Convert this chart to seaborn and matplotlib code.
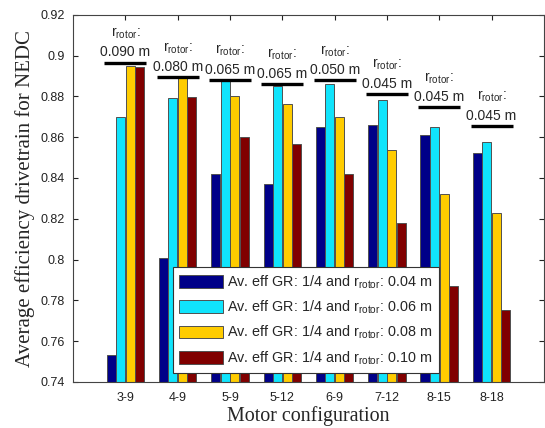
import matplotlib
matplotlib.use("Agg")
import matplotlib.pyplot as plt
import seaborn as sns
import pandas as pd

configs = ["3-9", "4-9", "5-9", "5-12", "6-9", "7-12", "8-15", "8-18"]
series = [
    "Av. eff GR: 1/4 and r$_{\\mathrm{rotor}}$: 0.04 m",
    "Av. eff GR: 1/4 and r$_{\\mathrm{rotor}}$: 0.06 m",
    "Av. eff GR: 1/4 and r$_{\\mathrm{rotor}}$: 0.08 m",
    "Av. eff GR: 1/4 and r$_{\\mathrm{rotor}}$: 0.10 m",
]
eff_r004 = [0.753, 0.801, 0.842, 0.837, 0.865, 0.866, 0.861, 0.852]
eff_r006 = [0.870, 0.879, 0.8875, 0.885, 0.886, 0.878, 0.865, 0.8575]
eff_r008 = [0.895, 0.889, 0.880, 0.8765, 0.870, 0.8535, 0.832, 0.823]
eff_r010 = [0.8945, 0.8795, 0.860, 0.8565, 0.842, 0.818, 0.787, 0.7755]
best_eff = [0.8965, 0.8893, 0.888, 0.886, 0.8878, 0.881, 0.8746, 0.8654]
best_radius = ["0.090 m", "0.080 m", "0.065 m", "0.065 m", "0.050 m", "0.045 m", "0.045 m", "0.045 m"]

colors = ["#000088", "#10E4FC", "#FFCC00", "#800000"]

df = pd.DataFrame({
    "config": configs * 4,
    "series": [s for s in series for _ in configs],
    "eff": eff_r004 + eff_r006 + eff_r008 + eff_r010,
})

sns.set_theme(style="white")
plt.rcParams["font.family"] = ["Liberation Sans", "DejaVu Sans"]
plt.rcParams["mathtext.fontset"] = "custom"
plt.rcParams["mathtext.rm"] = "Liberation Sans"
plt.rcParams["mathtext.it"] = "Liberation Sans:italic"

fig = plt.figure(figsize=(5.45, 4.28), dpi=100)
ax = fig.add_axes([0.134, 0.1075, 0.864, 0.858])

sns.barplot(data=df, x="config", y="eff", hue="series", order=configs,
            hue_order=series, palette=colors, saturation=1, width=0.727,
            gap=0.05, edgecolor="#505050", linewidth=0.7, ax=ax)

ax.set_xlim(-1, 8)
ax.set_ylim(0.74, 0.92)
ax.set_yticks([0.74 + 0.02 * i for i in range(10)])
ax.set_yticklabels(["0.74", "0.76", "0.78", "0.8", "0.82", "0.84", "0.86",
                    "0.88", "0.9", "0.92"])

# best-radius marker lines with labels
for i, (v, lab) in enumerate(zip(best_eff, best_radius)):
    ax.plot([i - 0.4, i + 0.4], [v, v], color="black", lw=2.4,
            solid_capstyle="butt", zorder=5)
    ax.annotate("r$_{\\mathrm{rotor}}$:\n" + lab, xy=(i, v),
                xytext=(0, 2.5), textcoords="offset points",
                ha="center", va="bottom", fontsize=10, linespacing=1.4,
                zorder=6)

ax.tick_params(axis="both", direction="in", length=3.5, width=0.8,
               top=True, right=True, bottom=True, left=True,
               labelsize=9, colors="#222222", pad=6)
ax.tick_params(axis="x", pad=7)
for sp in ax.spines.values():
    sp.set_color("#444444")
    sp.set_linewidth(0.8)

ax.set_xlabel("Motor configuration", family="Liberation Serif", fontsize=14.4,
              labelpad=2)
ax.set_ylabel("Average efficiency drivetrain for NEDC", family="Liberation Serif",
              fontsize=15, labelpad=4)

sns.move_legend(ax, "lower left", bbox_to_anchor=(0.212, 0.024), title=None,
                fontsize=10.4, frameon=True, fancybox=False, framealpha=1,
                edgecolor="#333333", handlelength=3.05, handleheight=0.95,
                labelspacing=0.55, borderpad=0.45, handletextpad=0.28,
                borderaxespad=0)
leg = ax.get_legend()
leg.get_frame().set_linewidth(0.8)
for h in leg.legend_handles:
    h.set_edgecolor("#505050")
    h.set_linewidth(0.7)

fig.savefig("out.png", dpi=100)
